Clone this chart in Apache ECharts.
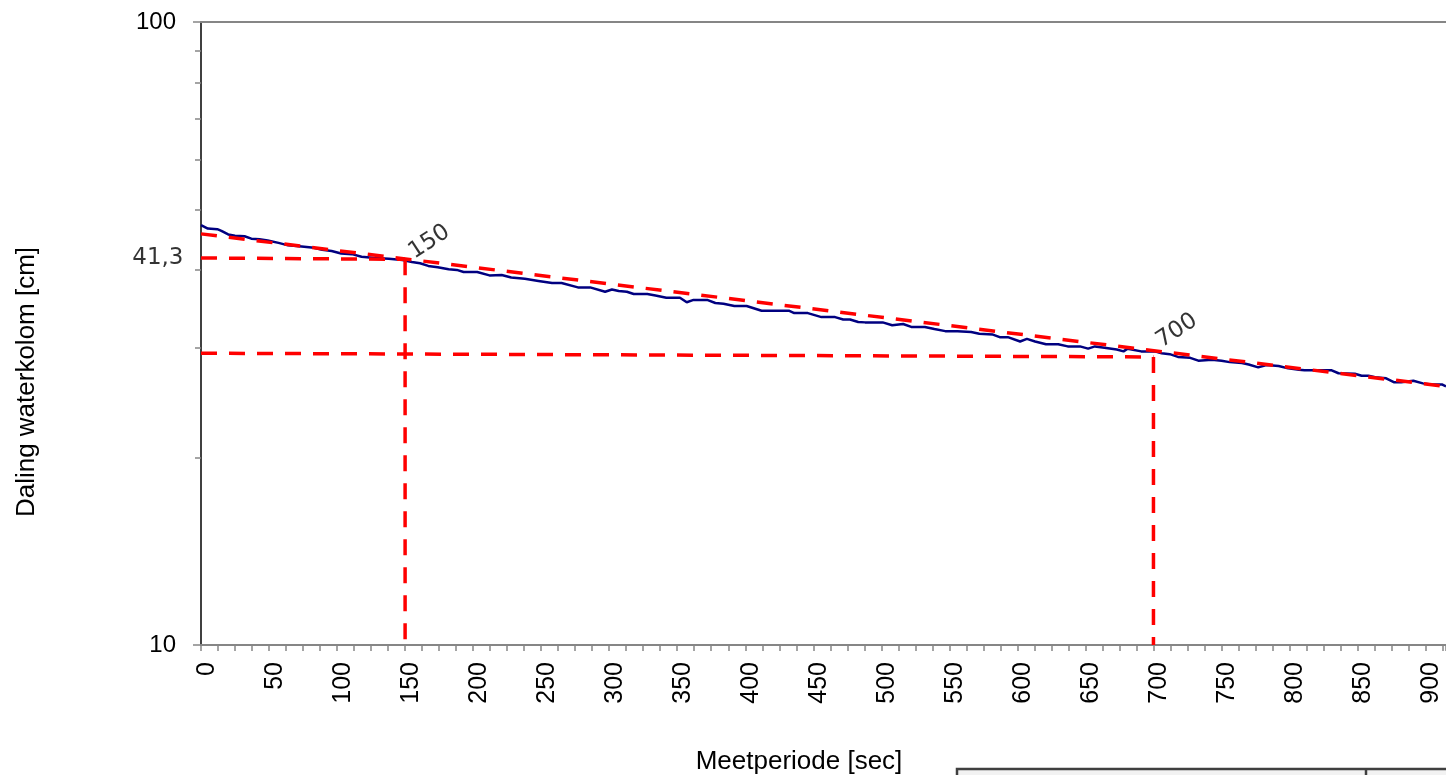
<!DOCTYPE html>
<html>
<head>
<meta charset="utf-8">
<title>Daling waterkolom</title>
<script src="https://cdn.jsdelivr.net/npm/echarts@6/dist/echarts.min.js"></script>
<style>
  html, body { margin: 0; padding: 0; background: #fff; }
  #chart { width: 1446px; height: 775px; }
</style>
</head>
<body>
<div id="chart"></div>
<script>
// meetwaarden: tijd [sec] en waterkolom [cm]
const times = [0, 5, 12, 15, 20, 25, 32, 37, 43, 49,
  57, 64, 74, 83, 89, 96, 103, 111, 118, 128,
  138, 148, 155, 161, 167, 174, 182, 188, 193, 203,
  212, 221, 228, 238, 248, 258, 265, 277, 286, 297,
  302, 307, 313, 318, 328, 334, 342, 352, 357, 362,
  372, 378, 384, 392, 401, 412, 422, 432, 436, 446,
  456, 466, 472, 477, 483, 488, 501, 508, 516, 522,
  532, 539, 547, 556, 566, 572, 582, 587, 593, 602,
  607, 613, 621, 630, 637, 646, 652, 657, 664, 673,
  678, 681, 691, 701, 706, 712, 718, 727, 733, 743,
  750, 756, 765, 770, 777, 783, 792, 799, 807, 811,
  831, 836, 848, 853, 858, 863, 871, 877, 882, 891,
  898, 904, 912, 915];
const levels = [47.2, 46.6, 46.5, 46.2, 45.6, 45.4, 45.3, 44.9, 44.8, 44.6,
  44.2, 43.8, 43.6, 43.4, 43.1, 42.9, 42.5, 42.4, 42.0, 41.8,
  41.7, 41.5, 41.2, 41.0, 40.6, 40.4, 40.1, 40.0, 39.7, 39.7,
  39.2, 39.25, 38.9, 38.7, 38.4, 38.1, 38.1, 37.5, 37.5, 36.9,
  37.2, 37.0, 36.9, 36.6, 36.6, 36.4, 36.1, 36.1, 35.5, 35.8,
  35.8, 35.4, 35.3, 35.0, 35.0, 34.4, 34.4, 34.4, 34.1, 34.1,
  33.6, 33.6, 33.3, 33.3, 33.0, 32.95, 32.95, 32.6, 32.75, 32.4,
  32.4, 32.15, 31.9, 31.9, 31.8, 31.6, 31.5, 31.2, 31.2, 30.7,
  31.0, 30.7, 30.4, 30.4, 30.15, 30.15, 29.9, 30.15, 30.0, 29.8,
  29.6, 29.9, 29.6, 29.6, 29.4, 29.3, 29.0, 28.9, 28.6, 28.7,
  28.6, 28.45, 28.35, 28.2, 27.9, 28.15, 28.05, 27.8, 27.65, 27.6,
  27.6, 27.3, 27.25, 27.05, 27.05, 26.9, 26.8, 26.4, 26.4, 26.55,
  26.3, 26.2, 26.2, 26.0];

// trendlijn (begin en eind)
const trendTimes = [0, 915];
const trendLevels = [45.7, 26.0];

// hulplijnen bij 150 en 700 sec
const markTimes = [150, 700];
const markStart = [41.8, 29.4];   // bij t = 0
const markEnd = [41.6, 29.0];     // bij t = markTimes
const markText = '41,3';

// assen
const xMin = 0, xMax = 915, xTickStep = 12.5, xLabelStep = 50;
const yMin = 10, yMax = 100;

const RED = '#ff0000';
const dashStyle = { color: RED, width: 3.5, type: [16, 12] };

const chart = echarts.init(document.getElementById('chart'));

const series = [
  {
    name: 'meting',
    type: 'line',
    data: times.map((t, i) => [t, levels[i]]),
    showSymbol: false,
    lineStyle: { color: '#000080', width: 2.5 },
    itemStyle: { color: '#000080' },
    z: 2
  },
  {
    name: 'trend',
    type: 'line',
    data: trendTimes.map((t, i) => [t, trendLevels[i]]),
    showSymbol: false,
    lineStyle: dashStyle,
    z: 3
  }
];

markTimes.forEach((t, k) => {
  // horizontaal
  series.push({
    type: 'line',
    data: [[xMin, markStart[k]], [t, markEnd[k]]],
    showSymbol: false,
    lineStyle: dashStyle,
    z: 3
  });
  // verticaal
  series.push({
    type: 'line',
    data: [[t, markEnd[k]], [t, yMin]],
    showSymbol: false,
    lineStyle: dashStyle,
    z: 3
  });
});

// labels 150 / 700 schuin boven het snijpunt
series.push({
  type: 'scatter',
  symbolSize: 1,
  itemStyle: { color: 'rgba(0,0,0,0)' },
  data: markTimes.map((t, k) => ({
    value: [t, markEnd[k]],
    label: { offset: k === 0 ? [8, 11] : [12, 3] }
  })),
  label: {
    show: true,
    position: [0, 0],
    align: 'left',
    verticalAlign: 'bottom',
    rotate: 33,
    formatter: p => String(p.value[0]),
    fontFamily: 'DejaVu Sans',
    fontSize: 23,
    color: '#000'
  },
  z: 4
});

// label 41,3 links van de as
series.push({
  type: 'scatter',
  symbolSize: 1,
  itemStyle: { color: 'rgba(0,0,0,0)' },
  data: [[xMin, markStart[0]]],
  label: {
    show: true,
    position: 'left',
    distance: 17,
    formatter: markText,
    fontFamily: 'DejaVu Sans',
    fontSize: 23,
    color: '#000'
  },
  z: 4
});

const option = {
  animation: false,
  backgroundColor: '#fff',
  grid: { left: 201, right: 0, top: 22, bottom: 130 },
  xAxis: [
    {
      type: 'value',
      min: xMin,
      max: xMax,
      interval: xTickStep,
      axisLine: { lineStyle: { color: '#868686', width: 2 } },
      axisTick: { show: true, length: 6, lineStyle: { color: '#868686', width: 1.5 } },
      splitLine: { show: false },
      axisLabel: {
        rotate: 90,
        margin: 17,
        fontFamily: 'Liberation Sans',
        fontSize: 25,
        color: '#000',
        verticalAlign: 'top',
        lineHeight: 12,
        formatter: v => (v % xLabelStep === 0 ? String(v) : '')
      }
    },
    {
      type: 'value',
      position: 'top',
      min: xMin,
      max: xMax,
      axisLine: { lineStyle: { color: '#868686', width: 2 } },
      axisTick: { show: false },
      axisLabel: { show: false },
      splitLine: { show: false }
    }
  ],
  yAxis: {
    type: 'log',
    logBase: 10,
    min: yMin,
    max: yMax,
    axisLine: { show: true, lineStyle: { color: '#000', width: 1.5 } },
    axisTick: { show: true, length: 8, lineStyle: { color: '#868686', width: 1.5 } },
    minorTick: { show: true, splitNumber: 9, length: 6, lineStyle: { color: '#868686', width: 1.5 } },
    splitLine: { show: false },
    minorSplitLine: { show: false },
    axisLabel: {
      margin: 25,
      fontFamily: 'Liberation Sans',
      fontSize: 24,
      color: '#000'
    }
  },
  series: series,
  graphic: [
    {
      type: 'text',
      x: 27,
      y: 382,
      rotation: Math.PI / 2,
      style: {
        text: 'Daling waterkolom [cm]',
        font: '26px "Liberation Sans"',
        fill: '#000',
        textAlign: 'center',
        textVerticalAlign: 'middle'
      }
    },
    {
      type: 'text',
      x: 799,
      y: 762,
      style: {
        text: 'Meetperiode [sec]',
        font: '26px "Liberation Sans"',
        fill: '#000',
        textAlign: 'center',
        textVerticalAlign: 'middle'
      }
    },
    {
      type: 'rect',
      shape: { x: 957, y: 769, width: 600, height: 40 },
      style: { fill: '#f2f2f2', stroke: '#404040', lineWidth: 2.5 }
    },
    {
      type: 'line',
      shape: { x1: 1366, y1: 769, x2: 1366, y2: 780 },
      style: { stroke: '#404040', lineWidth: 2.5 }
    }
  ]
};

chart.setOption(option);
window.addEventListener('resize', function () {
  chart.resize();
});
</script>
</body>
</html>
